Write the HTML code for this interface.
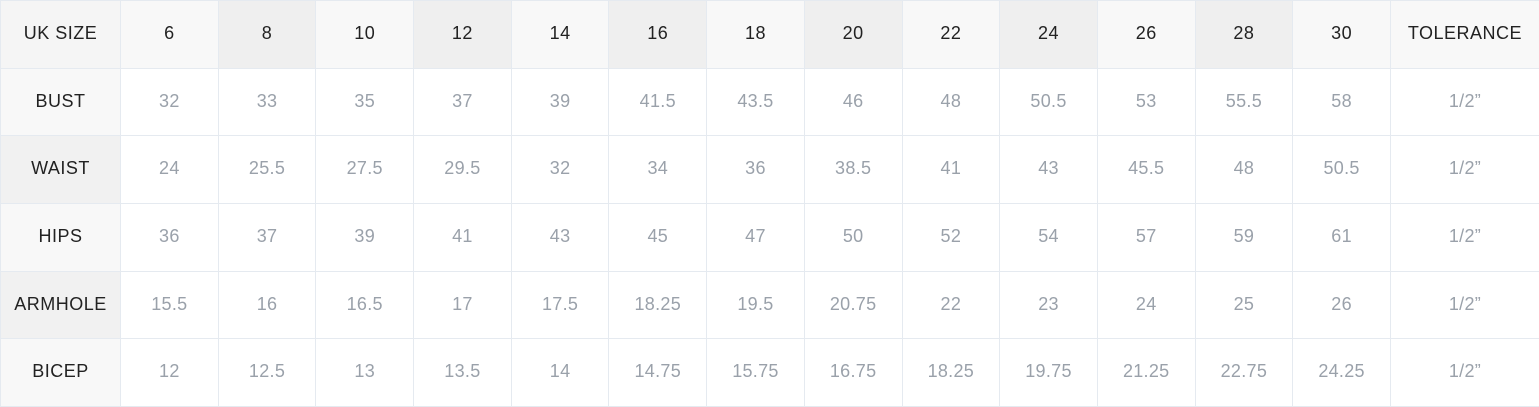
<!DOCTYPE html>
<html><head><meta charset="utf-8"><style>
html,body{margin:0;padding:0;background:#fff;}
body{width:1539px;height:407px;overflow:hidden;font-family:"Liberation Sans",sans-serif;}
table{border-collapse:collapse;table-layout:fixed;width:1539px;}
td,th{border:1px solid #e5eaf0;text-align:center;padding:0 0 2px 0;font-weight:normal;height:67.7px;box-sizing:border-box;}
th{color:#222;font-size:18px;background:#f8f8f8;letter-spacing:0.5px;}
th.d{background:#efefef;}
td{color:#9aa1aa;font-size:18px;letter-spacing:0.3px;}
td.lab{color:#222;background:#f8f8f8;letter-spacing:0.5px;}
tr.alt td.lab{background:#f1f1f1;}
</style></head><body>
<table>
<colgroup><col style="width:120px"><col span="13" style="width:97.7px"><col style="width:149px"></colgroup>
<tr>
<th style="background:#f5f5f5">UK SIZE</th>
<th>6</th>
<th class="d">8</th>
<th>10</th>
<th class="d">12</th>
<th>14</th>
<th class="d">16</th>
<th>18</th>
<th class="d">20</th>
<th>22</th>
<th class="d">24</th>
<th>26</th>
<th class="d">28</th>
<th>30</th>
<th>TOLERANCE</th>
</tr>
<tr><td class="lab">BUST</td><td>32</td><td>33</td><td>35</td><td>37</td><td>39</td><td>41.5</td><td>43.5</td><td>46</td><td>48</td><td>50.5</td><td>53</td><td>55.5</td><td>58</td><td>1/2”</td></tr>
<tr class="alt"><td class="lab">WAIST</td><td>24</td><td>25.5</td><td>27.5</td><td>29.5</td><td>32</td><td>34</td><td>36</td><td>38.5</td><td>41</td><td>43</td><td>45.5</td><td>48</td><td>50.5</td><td>1/2”</td></tr>
<tr><td class="lab">HIPS</td><td>36</td><td>37</td><td>39</td><td>41</td><td>43</td><td>45</td><td>47</td><td>50</td><td>52</td><td>54</td><td>57</td><td>59</td><td>61</td><td>1/2”</td></tr>
<tr class="alt"><td class="lab">ARMHOLE</td><td>15.5</td><td>16</td><td>16.5</td><td>17</td><td>17.5</td><td>18.25</td><td>19.5</td><td>20.75</td><td>22</td><td>23</td><td>24</td><td>25</td><td>26</td><td>1/2”</td></tr>
<tr><td class="lab">BICEP</td><td>12</td><td>12.5</td><td>13</td><td>13.5</td><td>14</td><td>14.75</td><td>15.75</td><td>16.75</td><td>18.25</td><td>19.75</td><td>21.25</td><td>22.75</td><td>24.25</td><td>1/2”</td></tr>
</table>
</body></html>
